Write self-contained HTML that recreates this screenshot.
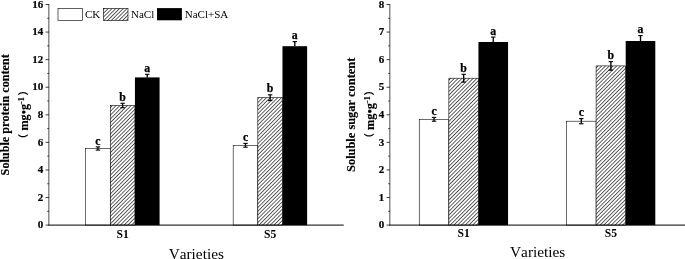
<!DOCTYPE html>
<html><head><meta charset="utf-8"><style>
html,body{margin:0;padding:0;background:#fff;overflow:hidden;}
svg{display:block;}
text{font-family:"Liberation Serif", "Noto Serif CJK SC", serif;fill:#000;font-kerning:none;}
.b11{font-size:11px;font-weight:bold;stroke:#000;stroke-width:0.2px;}
.r11{font-size:11px;}
.b12{font-size:11.6px;font-weight:bold;}
.bl{font-size:11.8px;font-weight:bold;stroke:#000;stroke-width:0.25px;}
.r15{font-size:15.3px;}
.bt{font-weight:bold;stroke:#000;stroke-width:0.15px;}
.par{font-family:"Noto Sans CJK SC", sans-serif;font-size:10.5px;font-weight:bold;}
</style></head><body>
<svg width="685" height="259" viewBox="0 0 685 259">
<defs>
<pattern id="hatch" patternUnits="userSpaceOnUse" width="2.65" height="10" patternTransform="rotate(45)">
<rect x="0" y="0" width="2.65" height="10" fill="#fff"/>
<rect x="0" y="0" width="0.62" height="10" fill="#000"/>
</pattern>
</defs>
<rect width="685" height="259" fill="#fff"/>
<rect x="85.62" y="148.50" width="24.65" height="76.60" fill="#fff" stroke="#000" stroke-width="0.58"/>
<rect x="110.28" y="105.50" width="24.65" height="119.60" fill="url(#hatch)" stroke="#000" stroke-width="0.58"/>
<rect x="134.93" y="77.40" width="24.65" height="147.70" fill="#000"/>
<line x1="97.95" y1="146.90" x2="97.95" y2="148.50" stroke="#000" stroke-width="1.35"/>
<line x1="95.75" y1="146.90" x2="100.15" y2="146.90" stroke="#000" stroke-width="1.1"/>
<line x1="97.95" y1="148.50" x2="97.95" y2="150.10" stroke="#000" stroke-width="1.35"/>
<line x1="95.75" y1="150.10" x2="100.15" y2="150.10" stroke="#000" stroke-width="1.1"/>
<text x="97.95" y="144.50" text-anchor="middle" class="bl">c</text>
<line x1="122.60" y1="103.30" x2="122.60" y2="105.50" stroke="#000" stroke-width="1.35"/>
<line x1="120.40" y1="103.30" x2="124.80" y2="103.30" stroke="#000" stroke-width="1.1"/>
<line x1="122.60" y1="105.50" x2="122.60" y2="107.70" stroke="#000" stroke-width="1.35"/>
<line x1="120.40" y1="107.70" x2="124.80" y2="107.70" stroke="#000" stroke-width="1.1"/>
<text x="122.60" y="100.90" text-anchor="middle" class="bl">b</text>
<line x1="147.25" y1="74.30" x2="147.25" y2="77.40" stroke="#000" stroke-width="1.35"/>
<line x1="145.05" y1="74.30" x2="149.45" y2="74.30" stroke="#000" stroke-width="1.1"/>
<text x="147.25" y="71.90" text-anchor="middle" class="bl">a</text>
<rect x="233.17" y="145.30" width="24.65" height="79.80" fill="#fff" stroke="#000" stroke-width="0.58"/>
<rect x="257.82" y="97.70" width="24.65" height="127.40" fill="url(#hatch)" stroke="#000" stroke-width="0.58"/>
<rect x="282.47" y="46.20" width="24.65" height="178.90" fill="#000"/>
<line x1="245.50" y1="143.40" x2="245.50" y2="145.30" stroke="#000" stroke-width="1.35"/>
<line x1="243.30" y1="143.40" x2="247.70" y2="143.40" stroke="#000" stroke-width="1.1"/>
<line x1="245.50" y1="145.30" x2="245.50" y2="147.20" stroke="#000" stroke-width="1.35"/>
<line x1="243.30" y1="147.20" x2="247.70" y2="147.20" stroke="#000" stroke-width="1.1"/>
<text x="245.50" y="141.00" text-anchor="middle" class="bl">c</text>
<line x1="270.15" y1="94.80" x2="270.15" y2="97.70" stroke="#000" stroke-width="1.35"/>
<line x1="267.95" y1="94.80" x2="272.35" y2="94.80" stroke="#000" stroke-width="1.1"/>
<line x1="270.15" y1="97.70" x2="270.15" y2="100.60" stroke="#000" stroke-width="1.35"/>
<line x1="267.95" y1="100.60" x2="272.35" y2="100.60" stroke="#000" stroke-width="1.1"/>
<text x="270.15" y="92.40" text-anchor="middle" class="bl">b</text>
<line x1="294.80" y1="41.60" x2="294.80" y2="46.20" stroke="#000" stroke-width="1.35"/>
<line x1="292.60" y1="41.60" x2="297.00" y2="41.60" stroke="#000" stroke-width="1.1"/>
<text x="294.80" y="39.20" text-anchor="middle" class="bl">a</text>
<line x1="48.85" y1="4.00" x2="48.85" y2="225.60" stroke="#000" stroke-width="0.7"/>
<line x1="48.50" y1="225.1" x2="343.7" y2="225.1" stroke="#000" stroke-width="1.0"/>
<line x1="45.55" y1="225.10" x2="48.85" y2="225.10" stroke="#000" stroke-width="0.75"/>
<text x="43.30" y="228.30" text-anchor="end" class="b11">0</text>
<line x1="47.25" y1="211.31" x2="48.85" y2="211.31" stroke="#000" stroke-width="0.75"/>
<line x1="45.55" y1="197.53" x2="48.85" y2="197.53" stroke="#000" stroke-width="0.75"/>
<text x="43.30" y="200.72" text-anchor="end" class="b11">2</text>
<line x1="47.25" y1="183.74" x2="48.85" y2="183.74" stroke="#000" stroke-width="0.75"/>
<line x1="45.55" y1="169.95" x2="48.85" y2="169.95" stroke="#000" stroke-width="0.75"/>
<text x="43.30" y="173.15" text-anchor="end" class="b11">4</text>
<line x1="47.25" y1="156.16" x2="48.85" y2="156.16" stroke="#000" stroke-width="0.75"/>
<line x1="45.55" y1="142.38" x2="48.85" y2="142.38" stroke="#000" stroke-width="0.75"/>
<text x="43.30" y="145.57" text-anchor="end" class="b11">6</text>
<line x1="47.25" y1="128.59" x2="48.85" y2="128.59" stroke="#000" stroke-width="0.75"/>
<line x1="45.55" y1="114.80" x2="48.85" y2="114.80" stroke="#000" stroke-width="0.75"/>
<text x="43.30" y="118.00" text-anchor="end" class="b11">8</text>
<line x1="47.25" y1="101.01" x2="48.85" y2="101.01" stroke="#000" stroke-width="0.75"/>
<line x1="45.55" y1="87.22" x2="48.85" y2="87.22" stroke="#000" stroke-width="0.75"/>
<text x="43.30" y="90.42" text-anchor="end" class="b11">10</text>
<line x1="47.25" y1="73.44" x2="48.85" y2="73.44" stroke="#000" stroke-width="0.75"/>
<line x1="45.55" y1="59.65" x2="48.85" y2="59.65" stroke="#000" stroke-width="0.75"/>
<text x="43.30" y="62.85" text-anchor="end" class="b11">12</text>
<line x1="47.25" y1="45.86" x2="48.85" y2="45.86" stroke="#000" stroke-width="0.75"/>
<line x1="45.55" y1="32.07" x2="48.85" y2="32.07" stroke="#000" stroke-width="0.75"/>
<text x="43.30" y="35.27" text-anchor="end" class="b11">14</text>
<line x1="47.25" y1="18.29" x2="48.85" y2="18.29" stroke="#000" stroke-width="0.75"/>
<line x1="45.55" y1="4.50" x2="48.85" y2="4.50" stroke="#000" stroke-width="0.75"/>
<text x="43.30" y="7.70" text-anchor="end" class="b11">16</text>
<text x="122.60" y="237.9" text-anchor="middle" class="b12">S1</text>
<text x="270.15" y="237.9" text-anchor="middle" class="b12">S5</text>
<text x="196.28" y="258.6" text-anchor="middle" class="r15">Varieties</text>
<text transform="translate(8.80,114.80) rotate(-90)" text-anchor="middle" class="bt" style="font-size:12.2px">Soluble protein content</text>
<text transform="translate(27.80,130.60) rotate(-90)" class="bt" style="font-size:12.2px">mg•g<tspan dy="-4" style="font-size:8px">-1</tspan></text>
<text transform="translate(27.30,144.30) rotate(-90)" class="par">（</text>
<text transform="translate(27.30,95.60) rotate(-90)" class="par">）</text>
<rect x="419.25" y="119.30" width="29.60" height="105.80" fill="#fff" stroke="#000" stroke-width="0.58"/>
<rect x="448.85" y="78.20" width="29.60" height="146.90" fill="url(#hatch)" stroke="#000" stroke-width="0.58"/>
<rect x="478.45" y="42.00" width="29.60" height="183.10" fill="#000"/>
<line x1="434.05" y1="117.40" x2="434.05" y2="119.30" stroke="#000" stroke-width="1.35"/>
<line x1="431.85" y1="117.40" x2="436.25" y2="117.40" stroke="#000" stroke-width="1.1"/>
<line x1="434.05" y1="119.30" x2="434.05" y2="121.20" stroke="#000" stroke-width="1.35"/>
<line x1="431.85" y1="121.20" x2="436.25" y2="121.20" stroke="#000" stroke-width="1.1"/>
<text x="434.05" y="115.00" text-anchor="middle" class="bl">c</text>
<line x1="463.65" y1="74.30" x2="463.65" y2="78.20" stroke="#000" stroke-width="1.35"/>
<line x1="461.45" y1="74.30" x2="465.85" y2="74.30" stroke="#000" stroke-width="1.1"/>
<line x1="463.65" y1="78.20" x2="463.65" y2="82.10" stroke="#000" stroke-width="1.35"/>
<line x1="461.45" y1="82.10" x2="465.85" y2="82.10" stroke="#000" stroke-width="1.1"/>
<text x="463.65" y="71.90" text-anchor="middle" class="bl">b</text>
<line x1="493.25" y1="37.10" x2="493.25" y2="42.00" stroke="#000" stroke-width="1.35"/>
<line x1="491.05" y1="37.10" x2="495.45" y2="37.10" stroke="#000" stroke-width="1.1"/>
<text x="493.25" y="34.70" text-anchor="middle" class="bl">a</text>
<rect x="566.50" y="121.20" width="29.60" height="103.90" fill="#fff" stroke="#000" stroke-width="0.58"/>
<rect x="596.10" y="65.90" width="29.60" height="159.20" fill="url(#hatch)" stroke="#000" stroke-width="0.58"/>
<rect x="625.70" y="41.00" width="29.60" height="184.10" fill="#000"/>
<line x1="581.30" y1="118.60" x2="581.30" y2="121.20" stroke="#000" stroke-width="1.35"/>
<line x1="579.10" y1="118.60" x2="583.50" y2="118.60" stroke="#000" stroke-width="1.1"/>
<line x1="581.30" y1="121.20" x2="581.30" y2="123.80" stroke="#000" stroke-width="1.35"/>
<line x1="579.10" y1="123.80" x2="583.50" y2="123.80" stroke="#000" stroke-width="1.1"/>
<text x="581.30" y="116.20" text-anchor="middle" class="bl">c</text>
<line x1="610.90" y1="61.60" x2="610.90" y2="65.90" stroke="#000" stroke-width="1.35"/>
<line x1="608.70" y1="61.60" x2="613.10" y2="61.60" stroke="#000" stroke-width="1.1"/>
<line x1="610.90" y1="65.90" x2="610.90" y2="70.20" stroke="#000" stroke-width="1.35"/>
<line x1="608.70" y1="70.20" x2="613.10" y2="70.20" stroke="#000" stroke-width="1.1"/>
<text x="610.90" y="59.20" text-anchor="middle" class="bl">b</text>
<line x1="640.50" y1="35.60" x2="640.50" y2="41.00" stroke="#000" stroke-width="1.35"/>
<line x1="638.30" y1="35.60" x2="642.70" y2="35.60" stroke="#000" stroke-width="1.1"/>
<text x="640.50" y="33.20" text-anchor="middle" class="bl">a</text>
<line x1="389.85" y1="4.00" x2="389.85" y2="225.60" stroke="#000" stroke-width="0.7"/>
<line x1="389.50" y1="225.1" x2="685.5" y2="225.1" stroke="#000" stroke-width="1.0"/>
<line x1="386.55" y1="225.10" x2="389.85" y2="225.10" stroke="#000" stroke-width="0.75"/>
<text x="384.30" y="228.30" text-anchor="end" class="b11">0</text>
<line x1="388.25" y1="211.31" x2="389.85" y2="211.31" stroke="#000" stroke-width="0.75"/>
<line x1="386.55" y1="197.53" x2="389.85" y2="197.53" stroke="#000" stroke-width="0.75"/>
<text x="384.30" y="200.72" text-anchor="end" class="b11">1</text>
<line x1="388.25" y1="183.74" x2="389.85" y2="183.74" stroke="#000" stroke-width="0.75"/>
<line x1="386.55" y1="169.95" x2="389.85" y2="169.95" stroke="#000" stroke-width="0.75"/>
<text x="384.30" y="173.15" text-anchor="end" class="b11">2</text>
<line x1="388.25" y1="156.16" x2="389.85" y2="156.16" stroke="#000" stroke-width="0.75"/>
<line x1="386.55" y1="142.38" x2="389.85" y2="142.38" stroke="#000" stroke-width="0.75"/>
<text x="384.30" y="145.57" text-anchor="end" class="b11">3</text>
<line x1="388.25" y1="128.59" x2="389.85" y2="128.59" stroke="#000" stroke-width="0.75"/>
<line x1="386.55" y1="114.80" x2="389.85" y2="114.80" stroke="#000" stroke-width="0.75"/>
<text x="384.30" y="118.00" text-anchor="end" class="b11">4</text>
<line x1="388.25" y1="101.01" x2="389.85" y2="101.01" stroke="#000" stroke-width="0.75"/>
<line x1="386.55" y1="87.22" x2="389.85" y2="87.22" stroke="#000" stroke-width="0.75"/>
<text x="384.30" y="90.42" text-anchor="end" class="b11">5</text>
<line x1="388.25" y1="73.44" x2="389.85" y2="73.44" stroke="#000" stroke-width="0.75"/>
<line x1="386.55" y1="59.65" x2="389.85" y2="59.65" stroke="#000" stroke-width="0.75"/>
<text x="384.30" y="62.85" text-anchor="end" class="b11">6</text>
<line x1="388.25" y1="45.86" x2="389.85" y2="45.86" stroke="#000" stroke-width="0.75"/>
<line x1="386.55" y1="32.07" x2="389.85" y2="32.07" stroke="#000" stroke-width="0.75"/>
<text x="384.30" y="35.27" text-anchor="end" class="b11">7</text>
<line x1="388.25" y1="18.29" x2="389.85" y2="18.29" stroke="#000" stroke-width="0.75"/>
<line x1="386.55" y1="4.50" x2="389.85" y2="4.50" stroke="#000" stroke-width="0.75"/>
<text x="384.30" y="7.70" text-anchor="end" class="b11">8</text>
<text x="463.65" y="237.3" text-anchor="middle" class="b12">S1</text>
<text x="610.90" y="237.3" text-anchor="middle" class="b12">S5</text>
<text x="537.67" y="257.0" text-anchor="middle" class="r15">Varieties</text>
<text transform="translate(355.30,114.80) rotate(-90)" text-anchor="middle" class="bt" style="font-size:12.4px">Soluble sugar content</text>
<text transform="translate(374.30,130.00) rotate(-90)" class="bt" style="font-size:12.4px">mg•g<tspan dy="-4" style="font-size:8px">-1</tspan></text>
<text transform="translate(372.60,143.60) rotate(-90)" class="par">（</text>
<text transform="translate(372.80,95.60) rotate(-90)" class="par">）</text>
<rect x="58.0" y="8.5" width="24.5" height="12" fill="#fff" stroke="#000" stroke-width="0.62"/>
<text x="85" y="17.8" class="r11">CK</text>
<rect x="103.5" y="8.5" width="24.5" height="12" fill="url(#hatch)" stroke="#000" stroke-width="0.62"/>
<text x="131" y="17.8" class="r11">NaCl</text>
<rect x="157" y="8.1" width="24.9" height="12.2" fill="#000"/>
<text x="184.8" y="17.8" class="r11">NaCl+SA</text>
</svg>
</body></html>
